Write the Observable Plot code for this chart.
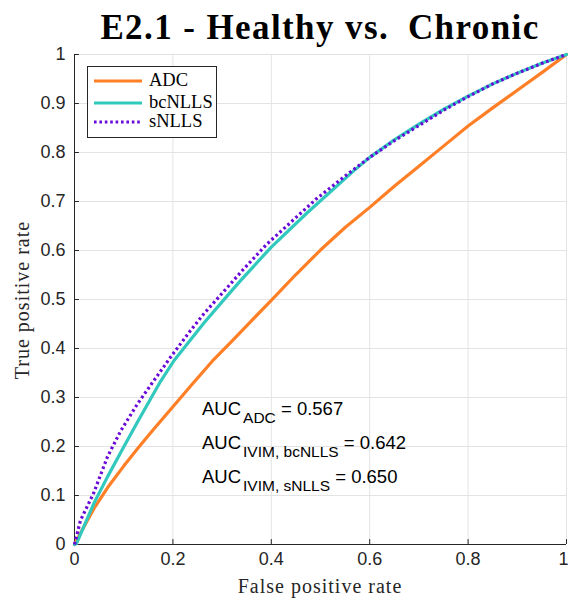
<!DOCTYPE html>
<html><head><meta charset="utf-8">
<script src="https://cdn.jsdelivr.net/npm/d3@7"></script>
<script src="https://cdn.jsdelivr.net/npm/@observablehq/plot@0.6"></script>
<style>
body{margin:0;background:#fff;}
#wrap{position:relative;width:568px;height:599px;overflow:hidden;}
.ov{position:absolute;white-space:nowrap;color:#000;}
.serif{font-family:"Liberation Serif","Times New Roman",serif;}
.sans{font-family:"Liberation Sans",Arial,sans-serif;}
.auc{font-size:18.5px;line-height:18px;color:#000;}
.auc .s{font-size:15.5px;vertical-align:-8px;margin-left:2px;}
</style></head><body><div id="wrap"></div>
<script>
const title = "E2.1 - Healthy vs.\u2002Chronic";
const xLabel = "False positive rate";
const yLabel = "True positive rate";
const xTicks = [0, 0.2, 0.4, 0.6, 0.8, 1];
const xTickLabels = ["0", "0.2", "0.4", "0.6", "0.8", "1"];
const yTicks = [0, 0.1, 0.2, 0.3, 0.4, 0.5, 0.6, 0.7, 0.8, 0.9, 1];
const yTickLabels = ["0", "0.1", "0.2", "0.3", "0.4", "0.5", "0.6", "0.7", "0.8", "0.9", "1"];

const seriesNames = ["ADC", "bcNLLS", "sNLLS"];
const seriesColors = ["#ff7f27", "#31c9bd", "#6a0ad8"];

const fprADC = [0, 0.02, 0.04, 0.07, 0.1, 0.13, 0.16, 0.2, 0.24, 0.28, 0.32, 0.36, 0.4, 0.45, 0.5, 0.55, 0.6, 0.65, 0.7, 0.75, 0.8, 0.85, 0.9, 0.95, 1];
const tprADC = [0, 0.038, 0.074, 0.12, 0.16, 0.198, 0.234, 0.281, 0.328, 0.374, 0.415, 0.457, 0.498, 0.551, 0.601, 0.647, 0.688, 0.731, 0.772, 0.813, 0.854, 0.891, 0.927, 0.963, 1];

const fprBc = [0, 0.004, 0.039, 0.067, 0.1, 0.128, 0.175, 0.202, 0.263, 0.317, 0.337, 0.4, 0.473, 0.568, 0.6, 0.65, 0.7, 0.75, 0.8, 0.85, 0.9, 0.95, 1];
const tprBc = [0, 0.002, 0.083, 0.138, 0.199, 0.25, 0.333, 0.375, 0.452, 0.515, 0.538, 0.607, 0.677, 0.763, 0.79, 0.826, 0.858, 0.888, 0.915, 0.94, 0.962, 0.982, 1];

const fprS = [0, 0.005, 0.012, 0.039, 0.067, 0.094, 0.128, 0.161, 0.195, 0.236, 0.263, 0.304, 0.34, 0.39, 0.44, 0.49, 0.55, 0.6, 0.65, 0.7, 0.75, 0.8, 0.85, 0.9, 0.95, 1];
const tprS = [0, 0.02, 0.049, 0.105, 0.179, 0.232, 0.287, 0.334, 0.382, 0.437, 0.471, 0.517, 0.558, 0.612, 0.658, 0.704, 0.752, 0.79, 0.824, 0.855, 0.886, 0.914, 0.94, 0.962, 0.982, 1];

const aucLabels = ["ADC", "IVIM, bcNLLS", "IVIM, sNLLS"];
const aucValues = ["0.567", "0.642", "0.650"];

const toRows = (fx, ty, name) => fx.map((f, i) => ({fpr: f, tpr: ty[i], series: name}));
const dADC = toRows(fprADC, tprADC, seriesNames[0]);
const dBc = toRows(fprBc, tprBc, seriesNames[1]);
const dS = toRows(fprS, tprS, seriesNames[2]);

const xFmt = new Map(xTicks.map((t, i) => [t, xTickLabels[i]]));
const yFmt = new Map(yTicks.map((t, i) => [t, yTickLabels[i]]));
const axisColor = "#262626";
const gridColor = "#e3e3e3";
const lastX = xTicks[xTicks.length - 1];

const chart = Plot.plot({
  width: 568, height: 599,
  marginLeft: 74, marginRight: 2, marginTop: 54, marginBottom: 55,
  x: {domain: [0, 1]},
  y: {domain: [0, 1]},
  style: {fontFamily: '"Liberation Sans", Arial, sans-serif', fontSize: "18px", color: axisColor, background: "white"},
  marks: [
    Plot.gridX(xTicks, {stroke: gridColor, strokeOpacity: 1}),
    Plot.gridY(yTicks, {stroke: gridColor, strokeOpacity: 1}),
    Plot.ruleX(xTicks, {x: d => d, y1: 0, y2: 0.01, stroke: axisColor}),
    Plot.ruleY(yTicks, {y: d => d, x1: 0, x2: 0.01, stroke: axisColor}),
    Plot.ruleX([0], {stroke: axisColor}),
    Plot.ruleY([0], {stroke: axisColor}),
    Plot.axisX(xTicks.filter(d => d !== lastX), {tickSize: 0, tickPadding: 8, tickFormat: d => xFmt.get(d), label: null, fill: axisColor}),
    Plot.axisX([lastX], {tickSize: 0, tickPadding: 8, tickFormat: d => xFmt.get(d), label: null, fill: axisColor, textAnchor: "end", dx: 2}),
    Plot.axisY(yTicks, {tickSize: 0, tickPadding: 9, tickFormat: d => yFmt.get(d), label: null, fill: axisColor}),
    Plot.line(dADC, {x: "fpr", y: "tpr", stroke: seriesColors[0], strokeWidth: 3.2}),
    Plot.line(dBc, {x: "fpr", y: "tpr", stroke: seriesColors[1], strokeWidth: 3.2}),
    Plot.line(dS, {x: "fpr", y: "tpr", stroke: seriesColors[2], strokeWidth: 3.2, strokeDasharray: "2.6,2.8", strokeLinecap: "butt"})
  ]
});

const wrap = document.getElementById("wrap");
wrap.appendChild(chart);

function add(html, css, cls) {
  const d = document.createElement("div");
  d.className = "ov " + (cls || "");
  d.style.cssText = css;
  d.innerHTML = html;
  wrap.appendChild(d);
  return d;
}

// title
const t = add("", "left:74px;width:492px;top:10px;text-align:center;font-weight:bold;font-size:35px;line-height:36px;letter-spacing:1.4px;", "serif");
t.textContent = title;
// axis labels
const xl = add("", "left:74px;width:492px;top:577px;text-align:center;font-size:20px;line-height:18px;letter-spacing:1px;color:#262626;", "serif");
xl.textContent = xLabel;
const yl = add("", "left:22px;top:300px;transform:translate(-50%,-50%) rotate(-90deg);font-size:20px;line-height:18px;letter-spacing:1px;color:#262626;", "serif");
yl.textContent = yLabel;

// legend
const legend = add("", "left:87px;top:66px;width:128px;height:70px;border:1px solid #262626;background:#fff;", "serif");
const rowY = [14, 36, 55];
seriesNames.forEach((name, i) => {
  const dash = i === 2 ? 'stroke-dasharray="2.6,2.8"' : "";
  const row = document.createElement("div");
  row.style.cssText = `position:absolute;left:6px;top:${rowY[i] - 9}px;height:18px;white-space:nowrap;`;
  row.innerHTML = `<svg width="50" height="18" style="position:absolute;left:0;top:0"><line x1="0" x2="48" y1="9" y2="9" stroke="${seriesColors[i]}" stroke-width="3.2" ${dash}/></svg><span style="position:absolute;left:55px;top:-1px;font-size:18.5px;line-height:18px;color:#000">${name}</span>`;
  legend.appendChild(row);
});

// AUC annotations
const aucTops = [400, 434, 468];
aucLabels.forEach((lab, i) => {
  add(`AUC<span class="s">${lab}</span> = ${aucValues[i]}`, `left:202px;top:${aucTops[i]}px;`, "sans auc");
});
</script>
</body></html>
